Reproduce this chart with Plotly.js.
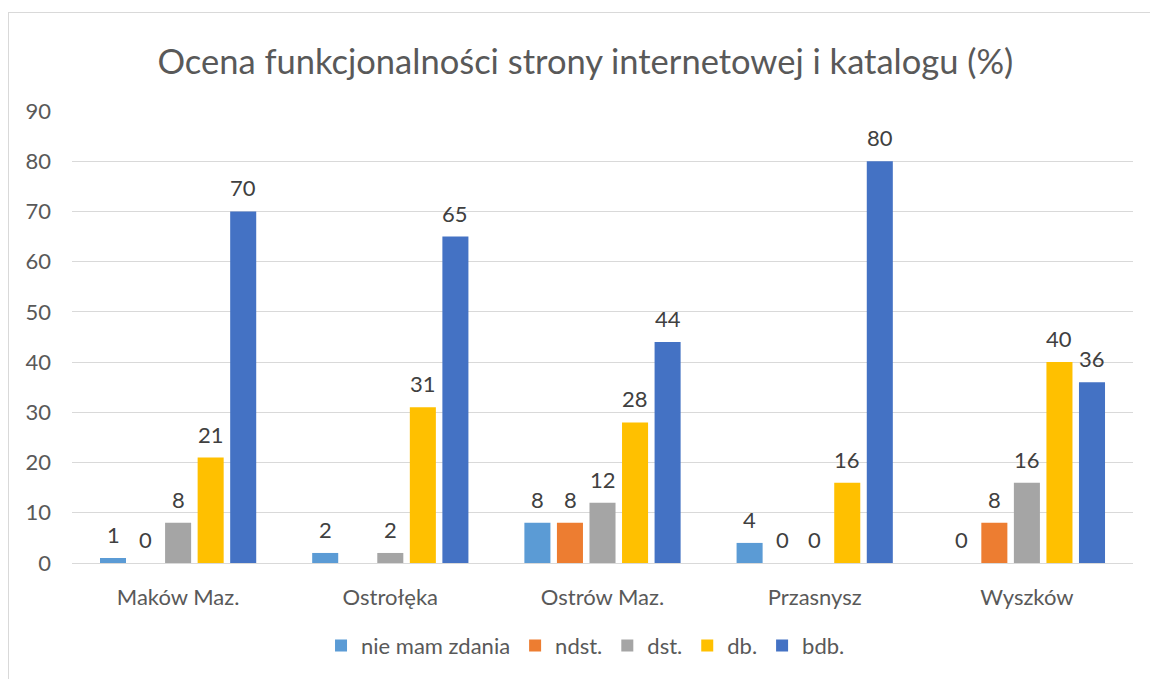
<!DOCTYPE html>
<html>
<head>
<meta charset="utf-8">
<script src="https://cdn.plot.ly/plotly-3.0.1.min.js"></script>
<style>
  html, body { margin: 0; padding: 0; background: #fff; }
  #wrap { position: relative; width: 1150px; height: 679px; }
  #chart { width: 1150px; height: 679px; }
  #frame { position: absolute; left: 8px; top: 12px; width: 1150px; height: 680px;
           border-left: 1px solid #d9d9d9; border-top: 1px solid #d9d9d9; pointer-events: none; }
</style>
</head>
<body>
<div id="wrap">
  <div id="chart"></div>
  <div id="frame"></div>
</div>
<script>
const categories = ["Maków Maz.", "Ostrołęka", "Ostrów Maz.", "Przasnysz", "Wyszków"];
const seriesNames = ["nie mam zdania", "ndst.", "dst.", "db.", "bdb."];
const nieMamZdania = [1, 2, 8, 4, 0];
const ndst = [0, null, 8, 0, 8];
const dst = [8, 2, 12, 0, 16];
const db = [21, 31, 28, 16, 40];
const bdb = [70, 65, 44, 80, 36];
const colors = ["#5B9BD5", "#ED7D31", "#A5A5A5", "#FFC000", "#4472C4"];

const FONT = "Lato, 'Open Sans', sans-serif";
const allSeries = [nieMamZdania, ndst, dst, db, bdb];

const traces = allSeries.map((vals, i) => ({
  type: "bar",
  name: seriesNames[i],
  x: categories,
  y: vals,
  marker: { color: colors[i] },
  hoverinfo: "x+y+name"
}));

// value labels placed through the axis scales (category + value), shifted per series slot
const slotPx = 32.5;
const annotations = [];
allSeries.forEach((vals, i) => {
  vals.forEach((v, j) => {
    if (v === null) return;
    annotations.push({
      x: categories[j], y: v, xref: "x", yref: "y",
      text: String(v), showarrow: false,
      xanchor: "center", yanchor: "bottom",
      xshift: (i - 2) * slotPx, yshift: 8,
      font: { family: FONT, size: 22, color: "#404040" }
    });
  });
});

const layout = {
  width: 1150,
  height: 679,
  margin: { l: 72, r: 17, t: 111, b: 114 },
  paper_bgcolor: "rgba(0,0,0,0)",
  plot_bgcolor: "rgba(0,0,0,0)",
  font: { family: FONT, color: "#595959" },
  title: {
    text: "Ocena funkcjonalności strony internetowej i katalogu (%)",
    font: { family: FONT, size: 34.5, color: "#595959" },
    x: 0.509, xanchor: "center",
    y: 0.909, yanchor: "middle"
  },
  barmode: "group",
  bargap: 0.233,
  bargroupgap: 0.2,
  xaxis: {
    type: "category",
    showgrid: false,
    showline: false,
    ticks: "",
    tickfont: { family: FONT, size: 22, color: "#595959" },
    ticklabelstandoff: 19
  },
  yaxis: {
    range: [0, 90],
    dtick: 10,
    tick0: 0,
    showgrid: true,
    gridcolor: "#d9d9d9",
    gridwidth: 1,
    zeroline: true,
    zerolinecolor: "#d9d9d9",
    zerolinewidth: 1,
    showline: false,
    ticks: "",
    tickfont: { family: FONT, size: 22, color: "#595959" },
    ticklabelstandoff: 20
  },
  legend: {
    orientation: "h",
    x: 0.484, xanchor: "center",
    y: -0.183, yanchor: "middle",
    font: { family: FONT, size: 22, color: "#595959" },
    itemwidth: 30,
    traceorder: "normal"
  },
  annotations: annotations,
  showlegend: true
};

Plotly.newPlot("chart", traces, layout, { displayModeBar: false, staticPlot: true });
</script>
</body>
</html>
